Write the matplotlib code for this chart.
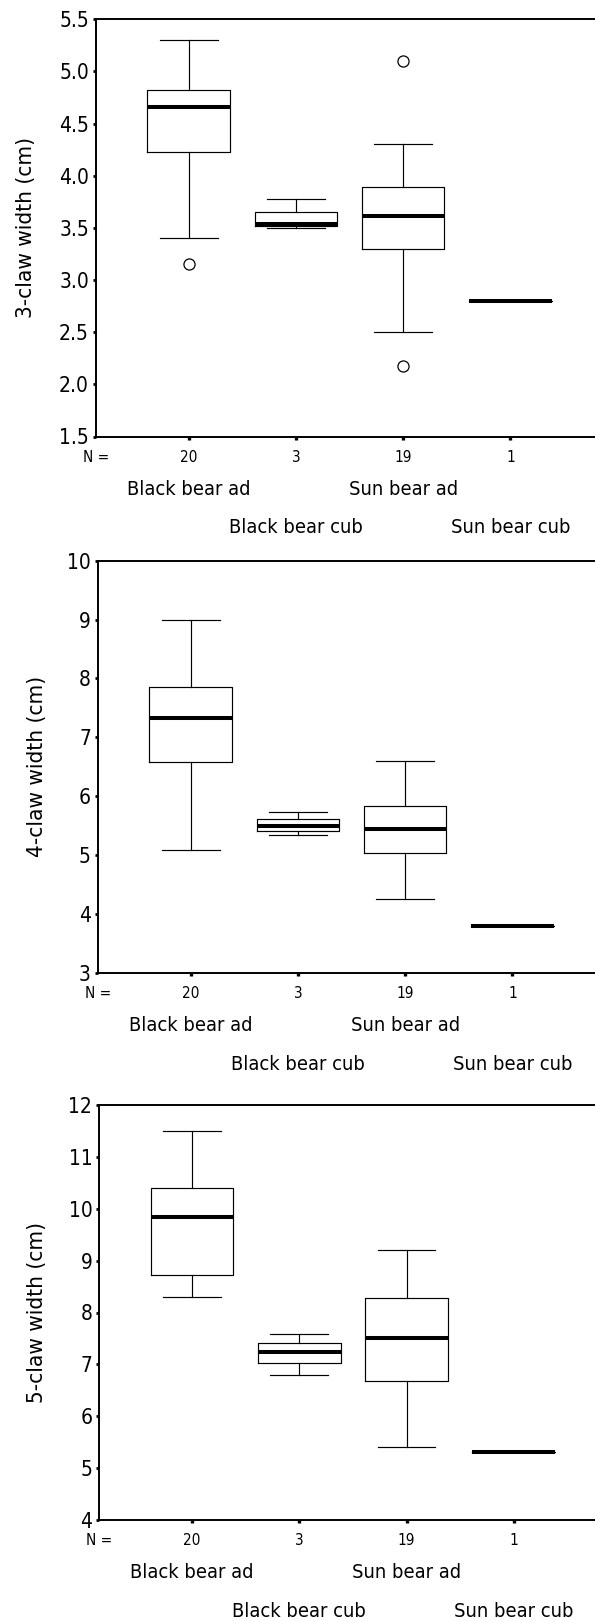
import numpy as np
import matplotlib
matplotlib.use("Agg")
import matplotlib.pyplot as plt
from matplotlib import font_manager as fm

groups = ["Black bear ad", "Black bear cub", "Sun bear ad", "Sun bear cub"]
n_counts = [20, 3, 19, 1]

# 3-claw width (cm)
claw3_lo = [3.40, 3.50, 2.50, 2.80]
claw3_q1 = [4.23, 3.52, 3.30, 2.80]
claw3_med = [4.66, 3.54, 3.61, 2.80]
claw3_q3 = [4.82, 3.65, 3.89, 2.80]
claw3_hi = [5.30, 3.78, 4.30, 2.80]
claw3_out = [[3.15], [], [5.10, 2.18], []]

# 4-claw width (cm)
claw4_lo = [5.09, 5.34, 4.26, 3.80]
claw4_q1 = [6.58, 5.41, 5.04, 3.80]
claw4_med = [7.33, 5.49, 5.44, 3.80]
claw4_q3 = [7.85, 5.62, 5.83, 3.80]
claw4_hi = [9.00, 5.73, 6.60, 3.80]
claw4_out = [[], [], [], []]

# 5-claw width (cm)
claw5_lo = [8.30, 6.80, 5.40, 5.32]
claw5_q1 = [8.73, 7.02, 6.68, 5.32]
claw5_med = [9.84, 7.24, 7.51, 5.32]
claw5_q3 = [10.40, 7.42, 8.27, 5.32]
claw5_hi = [11.49, 7.59, 9.21, 5.32]
claw5_out = [[], [], [], []]

# use the condensed DejaVu face when it is there (closer to the narrow original font)
plt.rcParams['font.family'] = 'DejaVu Sans'
cond_path = fm.findfont(fm.FontProperties(family='DejaVu Sans', stretch='condensed'))
if 'Condensed' in cond_path:
    plt.rcParams['font.stretch'] = 'condensed'
    fs_scale = 1.0
else:
    fs_scale = 0.9

W, H = 595, 1621
fig = plt.figure(figsize=(W / 100, H / 100), dpi=100)


def make_stats(lo, q1, med, q3, hi, out):
    stats = []
    for i in range(len(lo)):
        stats.append(dict(whislo=lo[i], q1=q1[i], med=med[i], q3=q3[i],
                          whishi=hi[i], fliers=out[i]))
    return stats


panels = [
    (make_stats(claw3_lo, claw3_q1, claw3_med, claw3_q3, claw3_hi, claw3_out),
     "3-claw width (cm)", (1.5, 5.5), np.arange(1.5, 5.51, 0.5), "%.1f",
     96, 19.3, 436.5, 26.5),
    (make_stats(claw4_lo, claw4_q1, claw4_med, claw4_q3, claw4_hi, claw4_out),
     "4-claw width (cm)", (3, 10), np.arange(3, 10.1, 1), "%d",
     98, 560.7, 973, 36.6),
    (make_stats(claw5_lo, claw5_q1, claw5_med, claw5_q3, claw5_hi, claw5_out),
     "5-claw width (cm)", (4, 12), np.arange(4, 12.1, 1), "%d",
     99.4, 1105, 1520, 37.0),
]

xlo, xhi = 0.135, 4.865
unit = 107.2
pos = np.arange(1, len(groups) + 1)

tick_len = 2.4
tick_pad = 7.3

for stats, ylab, ylim, yticks, fmt, left, top, bottom, ylab_x in panels:
    width_px = (xhi - xlo) * unit
    ax = fig.add_axes([left / W, 1 - bottom / H, width_px / W, (bottom - top) / H])
    ax.bxp(stats, positions=pos, widths=0.77, capwidths=0.54, showfliers=True,
           boxprops=dict(color='black', linewidth=0.85),
           whiskerprops=dict(color='black', linewidth=0.85),
           capprops=dict(color='black', linewidth=0.85),
           medianprops=dict(color='black', linewidth=2.9, solid_capstyle='butt'),
           flierprops=dict(marker='o', markerfacecolor='white', markeredgecolor='black',
                           markersize=8, markeredgewidth=0.9))
    ax.set_xlim(xlo, xhi)
    ax.set_ylim(*ylim)
    ax.set_yticks(yticks)
    ax.set_yticklabels([fmt % v for v in yticks])
    ax.set_xticks(pos)
    ax.set_xticklabels([str(n) for n in n_counts])
    ax.tick_params(axis='y', direction='out', length=2.2, width=2.0, pad=2.9,
                   labelsize=15 * fs_scale)
    ax.tick_params(axis='x', direction='out', length=tick_len, width=2.4,
                   pad=tick_pad, labelsize=11 * fs_scale)
    for sp in ['left', 'bottom', 'top']:
        ax.spines[sp].set_linewidth(1.4)
    ax.spines['right'].set_visible(False)

    ax.annotate("N =", xy=(0, 0), xycoords='axes fraction',
                xytext=(0, -(tick_len + tick_pad)), textcoords='offset points',
                ha='center', va='top', fontsize=11 * fs_scale)
    for i, g in enumerate(groups):
        off = 42.1 if i % 2 == 0 else 69.5
        ax.annotate(g, xy=(pos[i], 0), xycoords=ax.get_xaxis_transform(),
                    xytext=(0, -off), textcoords='offset points',
                    ha='center', va='baseline', fontsize=14.4 * fs_scale)

    fig.text(ylab_x / W, 1 - (top + bottom) / 2 / H, ylab, rotation=90,
             ha='center', va='center', fontsize=16.2 * fs_scale)

fig.savefig("out.png", dpi=100)
